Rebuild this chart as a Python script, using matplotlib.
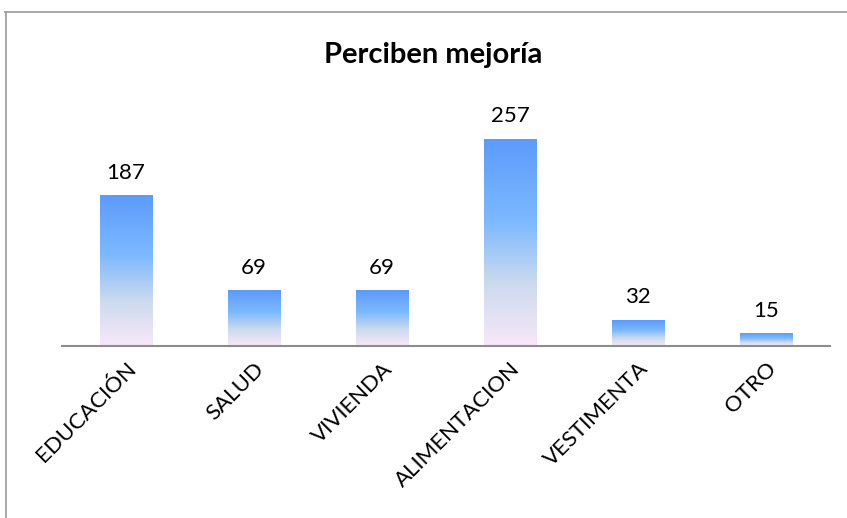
import numpy as np
import matplotlib
matplotlib.use("Agg")
import matplotlib.pyplot as plt
from matplotlib.colors import LinearSegmentedColormap
from matplotlib.lines import Line2D

categorias = ["EDUCACIÓN", "SALUD", "VIVIENDA", "ALIMENTACION", "VESTIMENTA", "OTRO"]
valores = [187, 69, 69, 257, 32, 15]

plt.rcParams["font.family"] = ["Lato", "DejaVu Sans"]

# degradado de cada barra: azul arriba, rosado claro abajo
grad = LinearSegmentedColormap.from_list(
    "barra", [(0.0, "#F8E8F8"), (0.3, "#CCDAEE"), (0.6, "#7DB9FF"), (1.0, "#5C9BFC")])

fig = plt.figure(figsize=(8.47, 5.18), dpi=100)
ax = fig.add_axes([62 / 847, 172 / 518, 768 / 847, (346 - 104.4) / 518])

x = np.arange(len(categorias))
ancho = 0.41
barras = ax.bar(x, valores, width=ancho, color="none", edgecolor="none")
gradiente = np.linspace(0, 1, 256).reshape(-1, 1)
for b in barras:
    x0, y0, w, h = b.get_x(), b.get_y(), b.get_width(), b.get_height()
    ax.imshow(gradiente, cmap=grad, origin="lower", aspect="auto",
              extent=[x0, x0 + w, y0, y0 + h], zorder=2)

for xi, v in zip(x, valores):
    ax.text(xi, v + 16, str(v), ha="center", va="bottom", fontsize=16)

ax.set_xlim(-0.5, len(categorias) - 0.5)
ax.set_ylim(0, 300)
ax.set_yticks([])
ax.set_xticks(x)
ax.set_xticklabels(categorias, rotation=45, ha="right", rotation_mode="anchor", fontsize=16)
ax.tick_params(axis="x", length=0, pad=9)
for lado in ["top", "right", "left"]:
    ax.spines[lado].set_visible(False)
ax.spines["bottom"].set_color("#8C8C8C")
ax.spines["bottom"].set_linewidth(1.5)

fig.text(433 / 847, 1 - 55 / 518, "Perciben mejoría", ha="center", va="center",
         fontsize=21, fontweight="bold")

# marco del gráfico
fig.add_artist(Line2D([5.5 / 847, 5.5 / 847], [0, 1 - 12 / 518], color="#9A9A9A", lw=1.2))
fig.add_artist(Line2D([5 / 847, 1], [1 - 12 / 518, 1 - 12 / 518], color="#9A9A9A", lw=1.2))

fig.savefig("out.png", dpi=100)
